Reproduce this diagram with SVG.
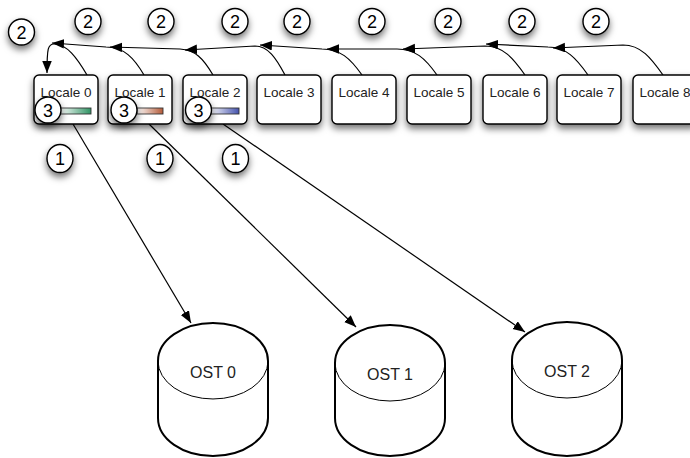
<svg xmlns="http://www.w3.org/2000/svg" width="690" height="458" viewBox="0 0 690 458">
  <defs>
    <filter id="shadow" x="-50%" y="-50%" width="200%" height="210%">
      <feDropShadow dx="0" dy="4" stdDeviation="3.6" flood-color="#000" flood-opacity="0.55"/>
    </filter>
    <marker id="arrow" markerUnits="userSpaceOnUse" markerWidth="13" markerHeight="10" refX="12" refY="4.75" orient="auto">
      <path d="M0,0 L12,4.75 L0,9.5 Z" fill="#000"/>
    </marker>
    <linearGradient id="barGreen" x1="0" y1="0" x2="1" y2="0">
      <stop offset="0" stop-color="#ffffff"/>
      <stop offset="1" stop-color="#2f9363"/>
    </linearGradient>
    <linearGradient id="barOrange" x1="0" y1="0" x2="1" y2="0">
      <stop offset="0" stop-color="#ffffff"/>
      <stop offset="1" stop-color="#b45a38"/>
    </linearGradient>
    <linearGradient id="barBlue" x1="0" y1="0" x2="1" y2="0">
      <stop offset="0" stop-color="#ffffff"/>
      <stop offset="1" stop-color="#4452ad"/>
    </linearGradient>
    <style>
      .box { fill: #fff; stroke: #000; stroke-width: 1.4; filter: url(#shadow); }
      .badge { fill: #fff; stroke: #000; stroke-width: 1.4; filter: url(#shadow); }
      .label { font-family: "Liberation Sans", Arial, sans-serif; font-size: 13.5px; fill: #222; text-anchor: middle; }
      .num { font-family: "Liberation Sans", Arial, sans-serif; font-size: 18px; fill: #000; text-anchor: middle; }
      .ost { font-family: "Liberation Sans", Arial, sans-serif; font-size: 16px; fill: #222; text-anchor: middle; }
      .bar { stroke: #333; stroke-width: 0.9; }
      .cyl { fill: #fff; stroke: #000; stroke-width: 2; }
      .cylrim { fill: none; stroke: #000; stroke-width: 1; }
      .link { fill: none; stroke: #000; stroke-width: 1.2; marker-end: url(#arrow); }
    </style>
  </defs>

  <rect width="690" height="458" fill="#fff"/>

  <!-- connectors: token passing along the locales, and writes to the OSTs -->
  <g id="connectors">
    <path class="link" d="M663,75 C651,58 641,45 623,45 L553,48"/>
    <path class="link" d="M588,75 C576,58 566,47 548,47 L486,44"/>
    <path class="link" d="M525,75 C513,58 503,46 485,46 L403,49"/>
    <path class="link" d="M437,75 C425,58 415,49 397,49 L327,49"/>
    <path class="link" d="M362,75 C350,58 340,49 322,49 L260,45"/>
    <path class="link" d="M285,75 C276,58 268,46 255,46 L185,50"/>
    <path class="link" d="M213,75 C203,58 195,50 180,49 L110,47"/>
    <path class="link" d="M144,75 C134,58 124,47 106,47 L52,43"/>
    <path class="link" d="M87,75 C77,58 67,44 54,44 C48,44 47,48 47,73"/>
    <path class="link" d="M73,124 L191,323"/>
    <path class="link" d="M149,124 L356,327"/>
    <path class="link" d="M223,124 L525,332"/>
  </g>

  <!-- locales -->
  <g id="locale0">
    <rect class="box" x="34" y="75" width="64" height="49" rx="5"/>
    <text class="label" x="66" y="97">Locale 0</text>
    <rect class="bar" x="60" y="108" width="31" height="6" fill="url(#barGreen)"/>
    <circle class="badge" cx="48" cy="110" r="13"/>
    <text class="num" x="48" y="116.5">3</text>
  </g>
  <g id="locale1">
    <rect class="box" x="108" y="75" width="64" height="49" rx="5"/>
    <text class="label" x="140" y="97">Locale 1</text>
    <rect class="bar" x="137" y="108" width="26" height="6" fill="url(#barOrange)"/>
    <circle class="badge" cx="124" cy="110" r="13"/>
    <text class="num" x="124" y="116.5">3</text>
  </g>
  <g id="locale2">
    <rect class="box" x="183" y="75" width="64" height="49" rx="5"/>
    <text class="label" x="215" y="97">Locale 2</text>
    <rect class="bar" x="210" y="108" width="29" height="6" fill="url(#barBlue)"/>
    <circle class="badge" cx="198.5" cy="110" r="13"/>
    <text class="num" x="198.5" y="116.5">3</text>
  </g>
  <g id="locale3">
    <rect class="box" x="257" y="75" width="64" height="49" rx="5"/>
    <text class="label" x="289" y="97">Locale 3</text>
  </g>
  <g id="locale4">
    <rect class="box" x="332" y="75" width="64" height="49" rx="5"/>
    <text class="label" x="364" y="97">Locale 4</text>
  </g>
  <g id="locale5">
    <rect class="box" x="407" y="75" width="64" height="49" rx="5"/>
    <text class="label" x="439" y="97">Locale 5</text>
  </g>
  <g id="locale6">
    <rect class="box" x="483" y="75" width="64" height="49" rx="5"/>
    <text class="label" x="515" y="97">Locale 6</text>
  </g>
  <g id="locale7">
    <rect class="box" x="557" y="75" width="64" height="49" rx="5"/>
    <text class="label" x="589" y="97">Locale 7</text>
  </g>
  <g id="locale8">
    <rect class="box" x="633" y="75" width="64" height="49" rx="5"/>
    <text class="label" x="665" y="97">Locale 8</text>
  </g>

  <!-- step badges: 2 (token pass) -->
  <g id="step2-a"><circle class="badge" cx="21.5" cy="32" r="13"/><text class="num" x="21.5" y="38.5">2</text></g>
  <g id="step2-b"><circle class="badge" cx="88" cy="21.5" r="13"/><text class="num" x="88" y="28">2</text></g>
  <g id="step2-c"><circle class="badge" cx="161" cy="21.5" r="13"/><text class="num" x="161" y="28">2</text></g>
  <g id="step2-d"><circle class="badge" cx="235" cy="21.5" r="13"/><text class="num" x="235" y="28">2</text></g>
  <g id="step2-e"><circle class="badge" cx="297" cy="21.5" r="13"/><text class="num" x="297" y="28">2</text></g>
  <g id="step2-f"><circle class="badge" cx="372" cy="21.5" r="13"/><text class="num" x="372" y="28">2</text></g>
  <g id="step2-g"><circle class="badge" cx="448" cy="21.5" r="13"/><text class="num" x="448" y="28">2</text></g>
  <g id="step2-h"><circle class="badge" cx="522" cy="21.5" r="13"/><text class="num" x="522" y="28">2</text></g>
  <g id="step2-i"><circle class="badge" cx="596" cy="21.5" r="13"/><text class="num" x="596" y="28">2</text></g>

  <!-- step badges: 1 (write) -->
  <g id="step1-a"><ellipse class="badge" cx="60" cy="158.5" rx="13" ry="14"/><text class="num" x="60" y="165">1</text></g>
  <g id="step1-b"><ellipse class="badge" cx="160" cy="158.5" rx="13" ry="14"/><text class="num" x="160" y="165">1</text></g>
  <g id="step1-c"><ellipse class="badge" cx="235.5" cy="158.5" rx="13" ry="14"/><text class="num" x="235.5" y="165">1</text></g>

  <!-- storage targets -->
  <g id="ost0">
    <path class="cyl" d="M158,361 A55,38 0 0 1 268,361 L268,418 A55,38 0 0 1 158,418 Z"/>
    <path class="cylrim" d="M158,361 A55,38 0 0 0 268,361"/>
    <text class="ost" x="213" y="378">OST 0</text>
  </g>
  <g id="ost1">
    <path class="cyl" d="M335,363 A55,38 0 0 1 445,363 L445,418 A55,38 0 0 1 335,418 Z"/>
    <path class="cylrim" d="M335,363 A55,38 0 0 0 445,363"/>
    <text class="ost" x="390" y="380">OST 1</text>
  </g>
  <g id="ost2">
    <path class="cyl" d="M512,360 A55,38 0 0 1 622,360 L622,418 A55,38 0 0 1 512,418 Z"/>
    <path class="cylrim" d="M512,360 A55,38 0 0 0 622,360"/>
    <text class="ost" x="567" y="377">OST 2</text>
  </g>
</svg>
